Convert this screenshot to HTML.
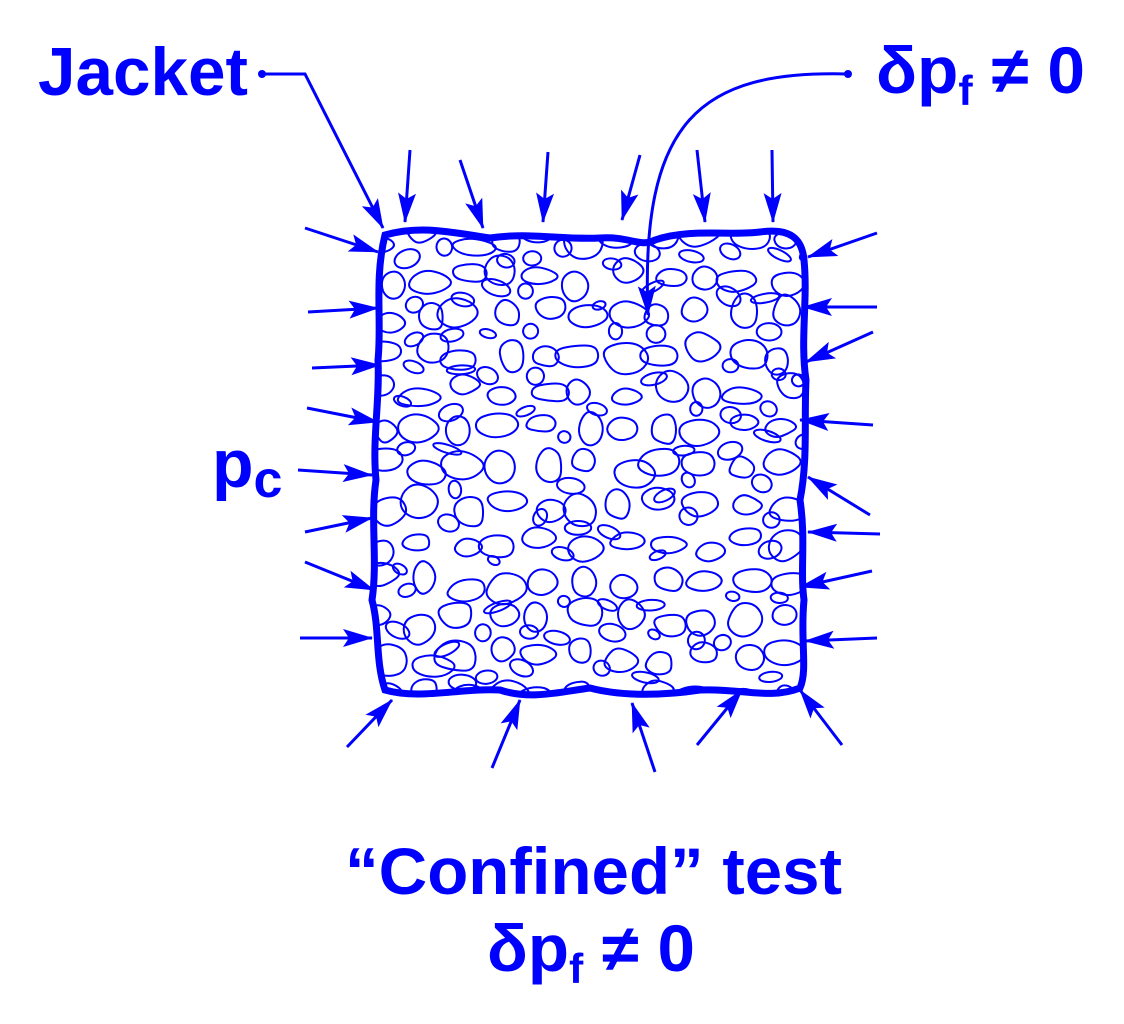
<!DOCTYPE html>
<html><head><meta charset="utf-8"><style>
html,body{margin:0;padding:0;background:#fff;width:1124px;height:1024px;overflow:hidden}
svg{display:block}
text{font-family:"Liberation Sans",sans-serif;font-weight:bold;fill:#0000ff}
</style></head><body>
<svg id="s" width="1124" height="1024" viewBox="0 0 1124 1024" xmlns="http://www.w3.org/2000/svg">
<defs>
<marker id="ah" markerWidth="30" markerHeight="20" refX="29" refY="10" orient="auto" markerUnits="userSpaceOnUse">
<path d="M0,1 L30,10 L0,19 L6,10 Z" fill="#0000ff"/>
</marker>
<clipPath id="cp"><path d="M385,235 C420,225 450,232 490,238 C530,232 560,240 600,238 C630,236 640,248 655,240 C690,228 730,236 760,232 C790,228 802,238 804,260 C808,300 800,340 806,380 C804,420 808,460 800,500 C806,540 800,570 804,600 C800,640 808,670 800,688 C770,700 740,688 700,690 C660,696 620,696 590,688 C560,692 530,700 500,690 C460,688 420,700 385,690 C375,660 380,630 372,600 C378,560 370,520 376,480 C372,440 380,400 378,360 C382,320 374,280 385,235 Z"/></clipPath>
</defs>
<g id="grains" clip-path="url(#cp)" fill="none" stroke="#0000ff" stroke-width="2"></g>
<path d="M385,235 C420,225 450,232 490,238 C530,232 560,240 600,238 C630,236 640,248 655,240 C690,228 730,236 760,232 C790,228 802,238 804,260 C808,300 800,340 806,380 C804,420 808,460 800,500 C806,540 800,570 804,600 C800,640 808,670 800,688 C770,700 740,688 700,690 C660,696 620,696 590,688 C560,692 530,700 500,690 C460,688 420,700 385,690 C375,660 380,630 372,600 C378,560 370,520 376,480 C372,440 380,400 378,360 C382,320 374,280 385,235 Z" fill="none" stroke="#0000ff" stroke-width="7"/>
<g stroke="#0000ff" stroke-width="3" fill="none" marker-end="url(#ah)">
<polyline points="262,74 305,74 383,228"/>
<path d="M848,74 C700,70 640,120 648,315"/>
<line x1="410" y1="150" x2="405" y2="222"/>
<line x1="460" y1="160" x2="483" y2="228"/>
<line x1="548" y1="152" x2="543" y2="222"/>
<line x1="640" y1="155" x2="622" y2="220"/>
<line x1="697" y1="150" x2="705" y2="222"/>
<line x1="772" y1="150" x2="773" y2="222"/>
<line x1="305" y1="228" x2="378" y2="252"/>
<line x1="308" y1="312" x2="378" y2="308"/>
<line x1="312" y1="368" x2="380" y2="365"/>
<line x1="307" y1="408" x2="378" y2="422"/>
<line x1="298" y1="470" x2="372" y2="475"/>
<line x1="305" y1="532" x2="372" y2="518"/>
<line x1="305" y1="562" x2="374" y2="590"/>
<line x1="300" y1="638" x2="372" y2="638"/>
<line x1="877" y1="233" x2="808" y2="257"/>
<line x1="877" y1="307" x2="803" y2="307"/>
<line x1="873" y1="332" x2="806" y2="362"/>
<line x1="873" y1="425" x2="800" y2="420"/>
<line x1="870" y1="515" x2="808" y2="477"/>
<line x1="880" y1="534" x2="808" y2="532"/>
<line x1="872" y1="571" x2="800" y2="587"/>
<line x1="877" y1="638" x2="805" y2="641"/>
<line x1="347" y1="747" x2="392" y2="700"/>
<line x1="492" y1="768" x2="520" y2="700"/>
<line x1="655" y1="772" x2="632" y2="703"/>
<line x1="697" y1="745" x2="742" y2="690"/>
<line x1="842" y1="745" x2="800" y2="690"/>
</g>
<circle cx="262" cy="74" r="4" fill="#0000ff"/>
<circle cx="848" cy="74" r="4" fill="#0000ff"/>
<text x="38" y="95" font-size="68" textLength="210" lengthAdjust="spacingAndGlyphs">Jacket</text>
<text x="876" y="93" font-size="66" textLength="209" lengthAdjust="spacingAndGlyphs">δp<tspan font-size="42" dy="12">f</tspan><tspan dy="-12"> ≠ 0</tspan></text>
<text x="212" y="487" font-size="68">p<tspan font-size="52" dy="10">c</tspan></text>
<text x="345" y="894" font-size="66" textLength="497" lengthAdjust="spacingAndGlyphs">“Confined” test</text>
<text x="487" y="971" font-size="66" textLength="208" lengthAdjust="spacingAndGlyphs">δp<tspan font-size="42" dy="12">f</tspan><tspan dy="-12"> ≠ 0</tspan></text>
</svg>
<script>
(function(){
var g=document.getElementById('grains'),s=12345;
function r(){s=(s*16807)%2147483647;return s/2147483647;}
var out='';
for(var y=232;y<705;y+=38){for(var x=375;x<815;x+=40){
 var cx=x+r()*18,cy=y+r()*16,a=12+r()*12,b=9+r()*9,n=7,pts=[];
 for(var i=0;i<n;i++){var t=i/n*Math.PI*2,k=0.8+r()*0.35;pts.push([cx+Math.cos(t)*a*k,cy+Math.sin(t)*b*k]);}
 var d='M'+((pts[0][0]+pts[n-1][0])/2).toFixed(1)+','+((pts[0][1]+pts[n-1][1])/2).toFixed(1);
 for(var i=0;i<n;i++){var p=pts[i],q=pts[(i+1)%n];d+=' Q'+p[0].toFixed(1)+','+p[1].toFixed(1)+' '+((p[0]+q[0])/2).toFixed(1)+','+((p[1]+q[1])/2).toFixed(1);}
 out+='<path d="'+d+'Z"/>';
 if(r()<0.7){var sx=cx+a+6+r()*4,sy=cy+b+4;out+='<ellipse cx="'+sx.toFixed(1)+'" cy="'+sy.toFixed(1)+'" rx="'+(6+r()*9).toFixed(1)+'" ry="'+(4+r()*5).toFixed(1)+'" transform="rotate('+(r()*60-30).toFixed(0)+' '+sx.toFixed(1)+' '+sy.toFixed(1)+')"/>';}
}}
g.innerHTML=out;
})();
</script>
</body></html>
